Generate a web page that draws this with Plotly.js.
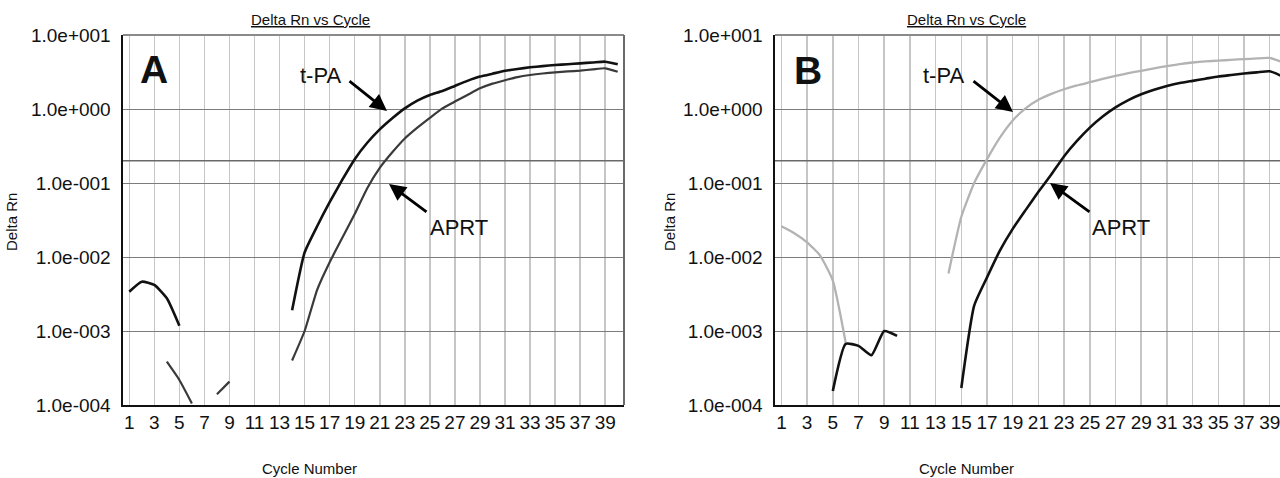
<!DOCTYPE html>
<html><head><meta charset="utf-8">
<script src="https://cdn.plot.ly/plotly-3.0.1.min.js"></script>
<style>html,body{margin:0;padding:0;background:#fff}#chart{width:1280px;height:478px}</style>
</head><body><div id="chart"></div>
<script>
// ---- data ----
const cycles = [1,2,3,4,5,6,7,8,9,10,11,12,13,14,15,16,17,18,19,20,21,22,23,24,25,26,27,28,29,30,31,32,33,34,35,36,37,38,39,40];
const threshold = 0.2;

// Panel A
const aTpa = [0.0034,0.00464,0.00419,0.00277,0.00118,null,null,null,null,null,null,null,null,
  0.0019,0.0115,0.026,0.055,0.11,0.21,0.35,0.53,0.75,1.02,1.3,1.55,1.75,2.05,2.4,2.74,3.0,3.28,3.48,3.66,3.8,3.93,4.03,4.14,4.25,4.36,4.02];
const aAprt = [null,null,null,0.000385,0.000218,0.000105,null,0.00014,0.000207,null,null,null,null,
  0.0004,0.001,0.0036,0.0085,0.018,0.038,0.085,0.16,0.26,0.4,0.56,0.76,1.02,1.26,1.55,1.9,2.2,2.45,2.7,2.88,3.02,3.13,3.22,3.3,3.43,3.55,3.19];

// Panel B
const bTpa = [0.026,0.021,0.0158,0.0105,0.0048,0.0007,null,null,null,null,null,null,null,
  0.006,0.035,0.1,0.21,0.41,0.7,1.02,1.33,1.6,1.85,2.08,2.3,2.55,2.8,3.05,3.28,3.55,3.8,4.05,4.25,4.4,4.5,4.62,4.72,4.82,4.9,4.3];
const bAprt = [null,null,null,null,0.000155,0.00067,0.00063,0.00047,0.001,0.00086,null,null,null,null,
  0.00017,0.0022,0.0053,0.0122,0.024,0.043,0.076,0.13,0.23,0.37,0.56,0.79,1.05,1.32,1.58,1.82,2.04,2.24,2.4,2.57,2.75,2.88,3.02,3.13,3.24,2.75];

const xTickVals = [1,3,5,7,9,11,13,15,17,19,21,23,25,27,29,31,33,35,37,39];
const xTickText = ['1','3','5','7','9','11','13','15','17','19','21','23','25','27','29','31','33','35','37','39'];
const yTickVals = [0.0001,0.001,0.01,0.1,1,10];
const yTickText = ['1.0e-004','1.0e-003','1.0e-002','1.0e-001','1.0e+000','1.0e+001'];

const chartTitle = 'Delta Rn vs Cycle';
const xTitle = 'Cycle Number';
const yTitle = 'Delta Rn';
const seriesNames = ['t-PA','APRT'];
const panelLetters = ['A','B'];

// ---- layout helpers (pixel -> paper) ----
const W = 1280, H = 478;
const px = v => v / W;
const py = v => 1 - v / H;

const FONT = 'Liberation Sans, Arial, Helvetica, sans-serif';
const domA = [px(123), px(624)];
const domB = [px(775), 1];
const domY = [py(405), py(35)];
const rangeA = [0.5, 40.5];
const rangeB = [0.5, 39.8];

function xAxis(dom, rng, anchor) {
  return {domain: dom, range: rng, anchor: anchor, tickmode: 'array', tickvals: xTickVals, ticktext: xTickText,
    showgrid: true, gridcolor: '#c6c6c6', gridwidth: 1.5, zeroline: false, showline: true, linecolor: '#111',
    linewidth: 2, ticks: '', ticklabelstandoff: -1, ticklabeloverflow: 'allow',
    tickfont: {family: FONT, size: 19, color: '#111'}, fixedrange: true};
}
function yAxis(anchor) {
  return {domain: domY, type: 'log', range: [-4, 1], anchor: anchor, tickmode: 'array', tickvals: yTickVals, ticktext: yTickText,
    showgrid: true, gridcolor: '#7c7c7c', gridwidth: 1, zeroline: false, showline: true, linecolor: '#111',
    linewidth: 2.5, ticks: '', ticklabelstandoff: 6, tickfont: {family: FONT, size: 19, color: '#111'}, fixedrange: true};
}

const curve = (color, width) => ({color: color, width: width, shape: 'spline', smoothing: 0.5});

const traces = [
  {x: [rangeA[0]-1, rangeA[1]+1], y: [threshold, threshold], xaxis: 'x', yaxis: 'y', mode: 'lines', line: {color: '#6a6a6a', width: 1.5}, hoverinfo: 'skip'},
  {x: cycles, y: aAprt, name: seriesNames[1], xaxis: 'x', yaxis: 'y', mode: 'lines', line: curve('#3a3a3a', 2.2), connectgaps: false},
  {x: cycles, y: aTpa, name: seriesNames[0], xaxis: 'x', yaxis: 'y', mode: 'lines', line: curve('#111', 2.6), connectgaps: false},
  {x: [rangeB[0]-1, rangeB[1]+1], y: [threshold, threshold], xaxis: 'x2', yaxis: 'y2', mode: 'lines', line: {color: '#6a6a6a', width: 1.5}, hoverinfo: 'skip'},
  {x: cycles, y: bTpa, name: seriesNames[0], xaxis: 'x2', yaxis: 'y2', mode: 'lines', line: curve('#b3b3b3', 2.3), connectgaps: false},
  {x: cycles, y: bAprt, name: seriesNames[1], xaxis: 'x2', yaxis: 'y2', mode: 'lines', line: curve('#111', 2.6), connectgaps: false}
];

function txt(text, x, y, size, extra) {
  return Object.assign({text: text, x: px(x), y: py(y), xref: 'paper', yref: 'paper', showarrow: false,
    xanchor: 'center', yanchor: 'middle', font: {family: FONT, size: size, color: '#111'}}, extra || {});
}
function arrow(hx, hy, tx, ty) {
  return {text: '', x: px(hx), y: py(hy), xref: 'paper', yref: 'paper', showarrow: true,
    ax: tx - hx, ay: ty - hy, arrowhead: 2, arrowsize: 1.2, arrowwidth: 2.8, arrowcolor: '#000', standoff: 0, startstandoff: 0};
}

const annotations = [
  txt('<u>' + chartTitle + '</u>', 310, 19, 15),
  txt('<u>' + chartTitle + '</u>', 966, 19, 15),
  txt(xTitle, 309, 468, 15),
  txt(xTitle, 966, 468, 15),
  txt(yTitle, 12, 222, 15, {textangle: -90}),
  txt(yTitle, 670, 222, 15, {textangle: -90}),
  txt('<b>' + panelLetters[0] + '</b>', 154, 69, 39),
  txt('<b>' + panelLetters[1] + '</b>', 808, 70, 39),
  txt(seriesNames[0], 320, 75, 22),
  txt(seriesNames[1], 459, 227, 22),
  txt(seriesNames[0], 943, 75, 22),
  txt(seriesNames[1], 1121, 227, 22),
  arrow(387, 111, 348, 80),
  arrow(389, 184, 428, 213),
  arrow(1013, 112, 972, 80),
  arrow(1050, 183, 1091, 213)
];

const shapes = [
  {type: 'line', xref: 'paper', yref: 'paper', x0: domA[0], x1: domA[1], y0: domY[1], y1: domY[1], line: {color: '#8a8a8a', width: 2}},
  {type: 'line', xref: 'paper', yref: 'paper', x0: domA[1], x1: domA[1], y0: domY[0], y1: domY[1], line: {color: '#6a6a6a', width: 2}},
  {type: 'line', xref: 'paper', yref: 'paper', x0: domB[0], x1: domB[1], y0: domY[1], y1: domY[1], line: {color: '#8a8a8a', width: 2}}
];

const layout = {
  width: W, height: H, margin: {l: 0, r: 0, t: 0, b: 0, pad: 0},
  paper_bgcolor: '#fff', plot_bgcolor: '#fff', showlegend: false,
  font: {family: FONT, color: '#111'},
  xaxis: xAxis(domA, rangeA, 'y'), yaxis: yAxis('x'),
  xaxis2: xAxis(domB, rangeB, 'y2'), yaxis2: yAxis('x2'),
  shapes: shapes, annotations: annotations
};

Plotly.newPlot('chart', traces, layout, {staticPlot: true, displayModeBar: false});
</script>
</body></html>
